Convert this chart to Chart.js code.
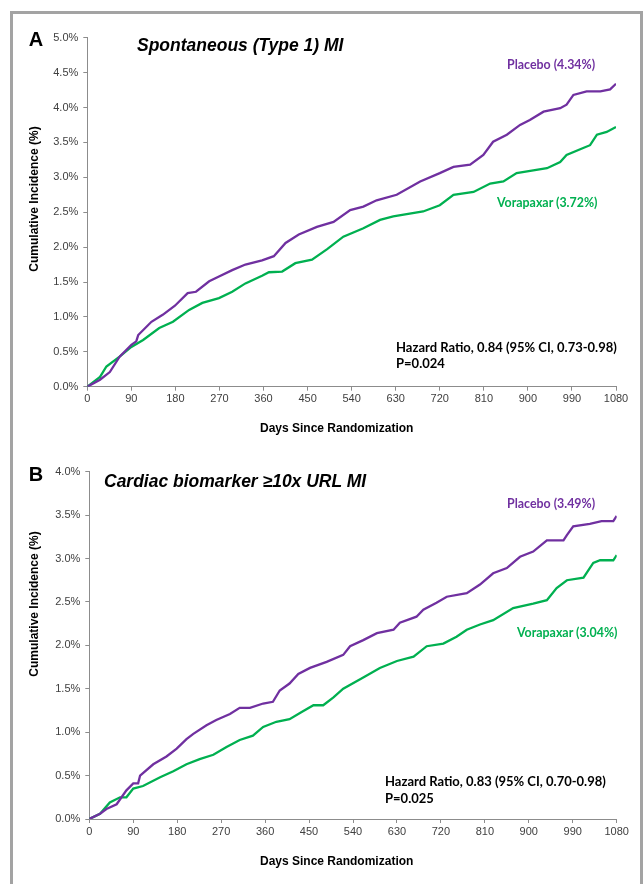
<!DOCTYPE html>
<html>
<head>
<meta charset="utf-8">
<script src="https://cdn.jsdelivr.net/npm/chart.js@4.4.1/dist/chart.umd.min.js"></script>
<style>
  html, body { margin: 0; padding: 0; background: #fff; }
  body { width: 644px; height: 884px; position: relative; overflow: hidden; font-family: Arial, "Liberation Sans", sans-serif; }
  .frame { position: absolute; left: 10px; top: 11px; width: 627px; height: 900px; border: 3px solid #a3a3a3; }
  .panel { position: absolute; left: 0; }
  .txt { position: absolute; white-space: nowrap; line-height: 1; transform: translateY(-50%); }
  .letter { font-weight: bold; font-size: 20px; color: #000; transform: translate(-50%, -50%); }
  .title { font-weight: bold; font-style: italic; font-size: 17.5px; color: #000; }
  .ytitle { font-weight: bold; font-size: 12px; color: #000; transform: translate(-50%, -50%) rotate(-90deg); }
  .xtitle { font-weight: bold; font-size: 12px; color: #000; }
  .note { font-family: Lato, "Open Sans", sans-serif; font-weight: bold; font-size: 12.4px; }
  .hr { font-family: Lato, "Open Sans", sans-serif; font-weight: bold; font-size: 13px; color: #000; }
</style>
</head>
<body>
<div class="frame"></div>
<canvas id="chartA" class="panel" width="644" height="440" style="top:0"></canvas>
<canvas id="chartB" class="panel" width="644" height="444" style="top:440px"></canvas>

<div class="txt letter" style="left:36px; top:39px">A</div>
<div class="txt title" style="left:137px; top:46px">Spontaneous (Type 1) MI</div>
<div class="txt ytitle" style="left:34px; top:199px">Cumulative Incidence (%)</div>
<div class="txt xtitle" style="left:260px; top:428px">Days Since Randomization</div>
<div class="txt note" style="left:507px; top:65px; color:#7030A0">Placebo (4.34%)</div>
<div class="txt note" style="left:497px; top:203px; color:#00B050">Vorapaxar (3.72%)</div>
<div class="txt hr" style="left:396px; top:347px">Hazard Ratio, 0.84 (95% CI, 0.73-0.98)</div>
<div class="txt hr" style="left:396px; top:363px">P=0.024</div>

<div class="txt letter" style="left:36px; top:474px">B</div>
<div class="txt title" style="left:104px; top:482px">Cardiac biomarker ≥10x URL MI</div>
<div class="txt ytitle" style="left:34px; top:604px">Cumulative Incidence (%)</div>
<div class="txt xtitle" style="left:260px; top:861px">Days Since Randomization</div>
<div class="txt note" style="left:507px; top:504px; color:#7030A0">Placebo (3.49%)</div>
<div class="txt note" style="left:517px; top:633px; color:#00B050">Vorapaxar (3.04%)</div>
<div class="txt hr" style="left:385px; top:781px">Hazard Ratio, 0.83 (95% CI, 0.70-0.98)</div>
<div class="txt hr" style="left:385px; top:798px">P=0.025</div>

<script>
/* =============== Data =============== */
const xTicks = [0, 90, 180, 270, 360, 450, 540, 630, 720, 810, 900, 990, 1080];

// Panel A: spontaneous (type 1) MI
const daysA_placebo = [0, 26, 46, 66, 90, 100, 104, 131, 154, 179, 205, 222, 249, 269, 296, 323, 357, 381, 405, 432, 469, 503, 537, 564, 591, 632, 680, 720, 748, 782, 809, 829, 857, 884, 904, 932, 966, 979, 993, 1020, 1048, 1068, 1080];
const incA_placebo = [0, 0.10, 0.21, 0.43, 0.60, 0.65, 0.74, 0.93, 1.03, 1.16, 1.34, 1.36, 1.51, 1.58, 1.67, 1.75, 1.81, 1.87, 2.06, 2.18, 2.29, 2.36, 2.53, 2.58, 2.67, 2.75, 2.94, 3.06, 3.15, 3.18, 3.32, 3.51, 3.61, 3.75, 3.82, 3.94, 3.99, 4.04, 4.18, 4.23, 4.23, 4.26, 4.34];
const daysA_vora = [0, 26, 39, 66, 90, 114, 147, 175, 208, 235, 269, 296, 323, 357, 371, 398, 425, 459, 490, 523, 564, 598, 625, 686, 720, 748, 789, 823, 850, 877, 911, 939, 966, 979, 1013, 1027, 1041, 1061, 1080];
const incA_vora = [0, 0.14, 0.29, 0.43, 0.57, 0.67, 0.84, 0.93, 1.10, 1.20, 1.27, 1.36, 1.48, 1.59, 1.64, 1.65, 1.77, 1.82, 1.97, 2.15, 2.27, 2.39, 2.44, 2.51, 2.60, 2.75, 2.79, 2.91, 2.94, 3.06, 3.10, 3.13, 3.22, 3.32, 3.42, 3.46, 3.61, 3.65, 3.72];

// Panel B: cardiac biomarker >=10x URL MI
const daysB_placebo = [0, 22, 35, 56, 76, 90, 100, 104, 131, 158, 179, 199, 213, 240, 260, 288, 308, 329, 356, 376, 390, 410, 428, 452, 486, 520, 534, 561, 589, 623, 636, 670, 684, 711, 732, 773, 800, 827, 855, 882, 909, 937, 971, 978, 991, 1025, 1049, 1073, 1080];
const incB_placebo = [0, 0.06, 0.115, 0.17, 0.33, 0.41, 0.41, 0.50, 0.63, 0.72, 0.81, 0.92, 0.98, 1.08, 1.14, 1.21, 1.28, 1.28, 1.33, 1.35, 1.48, 1.56, 1.67, 1.74, 1.81, 1.89, 1.99, 2.06, 2.14, 2.18, 2.26, 2.33, 2.41, 2.49, 2.56, 2.60, 2.70, 2.83, 2.89, 3.02, 3.08, 3.21, 3.21, 3.27, 3.37, 3.40, 3.43, 3.43, 3.49];
const daysB_vora = [0, 22, 42, 63, 76, 90, 110, 145, 172, 199, 226, 254, 281, 308, 335, 356, 383, 410, 434, 459, 479, 500, 520, 561, 595, 630, 664, 691, 725, 752, 773, 800, 827, 868, 909, 937, 957, 978, 1012, 1032, 1046, 1073, 1080];
const incB_vora = [0, 0.06, 0.19, 0.25, 0.25, 0.35, 0.38, 0.48, 0.55, 0.63, 0.69, 0.74, 0.83, 0.91, 0.96, 1.06, 1.12, 1.15, 1.23, 1.31, 1.31, 1.40, 1.50, 1.63, 1.74, 1.82, 1.87, 1.99, 2.02, 2.10, 2.18, 2.24, 2.29, 2.43, 2.48, 2.52, 2.66, 2.75, 2.78, 2.95, 2.98, 2.98, 3.04];

const PURPLE = "#7030A0";
const GREEN = "#00B050";
const AXIS = "#8c8c8c";

const pts = (xs, ys) => xs.map((x, i) => ({ x, y: ys[i] }));

/* =============== Chart builder =============== */
function makeChart(id, opts) {
  return new Chart(document.getElementById(id), {
    type: "line",
    data: {
      datasets: [
        { data: pts(opts.placebo[0], opts.placebo[1]), borderColor: PURPLE, borderWidth: 2.3, pointRadius: 0, tension: 0 },
        { data: pts(opts.vora[0], opts.vora[1]), borderColor: GREEN, borderWidth: 2.3, pointRadius: 0, tension: 0 }
      ]
    },
    options: {
      responsive: false,
      animation: false,
      layout: { padding: opts.padding },
      plugins: { legend: { display: false }, tooltip: { enabled: false } },
      scales: {
        x: {
          type: "linear", min: 0, max: 1080,
          afterBuildTicks: (s) => { s.ticks = xTicks.map(v => ({ value: v })); },
          afterFit: (s) => { s.height = opts.xHeight; },
          grid: { display: true, drawOnChartArea: false, tickLength: 4, color: AXIS },
          border: { color: AXIS, width: 1 },
          ticks: { color: "#404040", font: { family: "Arial", size: 11 }, padding: 2, maxRotation: 0, autoSkip: false,
                   callback: (v) => String(v) }
        },
        y: {
          min: 0, max: opts.yMax,
          afterFit: (s) => { s.width = opts.yWidth; },
          grid: { display: true, drawOnChartArea: false, tickLength: 4, color: AXIS },
          border: { color: AXIS, width: 1 },
          ticks: { stepSize: 0.5, color: "#404040", font: { family: "Arial", size: 11 }, padding: 5,
                   callback: (v) => v.toFixed(1) + "%" }
        }
      }
    }
  });
}

makeChart("chartA", {
  placebo: [daysA_placebo, incA_placebo],
  vora: [daysA_vora, incA_vora],
  yMax: 5,
  padding: { left: 10, right: 28, top: 37.7, bottom: 0 },
  yWidth: 77.3,
  xHeight: 53.3
});

makeChart("chartB", {
  placebo: [daysB_placebo, incB_placebo],
  vora: [daysB_vora, incB_vora],
  yMax: 4,
  padding: { left: 10, right: 27.3, top: 31.7, bottom: 0 },
  yWidth: 79.3,
  xHeight: 65
});
</script>
</body>
</html>
